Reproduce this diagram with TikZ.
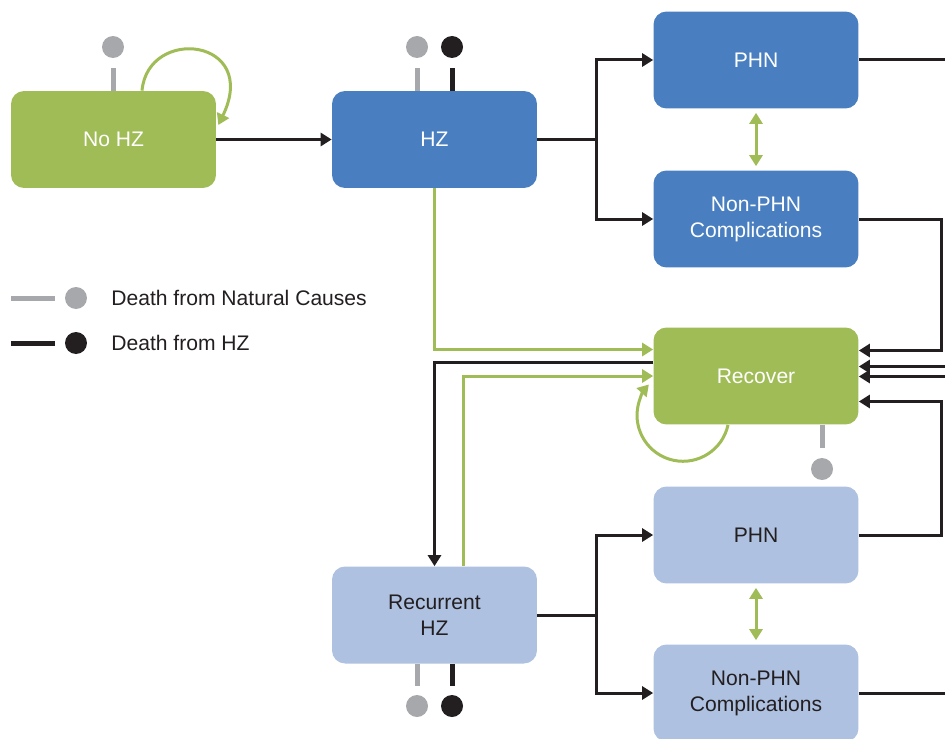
\documentclass[tikz,border=0pt]{standalone}
\usepackage{fontspec}
\setmainfont{Liberation Sans}
\usepackage{tikz}
\usetikzlibrary{arrows.meta}
\definecolor{hzgreen}{RGB}{160,188,86}
\definecolor{hzblue}{RGB}{73,127,192}
\definecolor{hzlight}{RGB}{174,193,225}
\definecolor{hzgray}{RGB}{167,168,171}
\definecolor{hzdark}{RGB}{35,31,32}
\tikzstyle{box} = [rounded corners=0.26cm, minimum width=4.1cm, minimum height=1.94cm, align=center, font=\fontsize{12}{14.8}\selectfont]
\tikzstyle{well} = [box, fill=hzgreen, text=white]
\tikzstyle{acute} = [box, fill=hzblue, text=white]
\tikzstyle{recur} = [box, fill=hzlight, text=hzdark]
\tikzstyle{arrow} = [draw=hzdark, line width=0.06cm, -{Triangle[length=0.22cm, width=0.26cm]}]
\tikzstyle{garrow} = [draw=hzgreen, line width=0.06cm, -{Triangle[length=0.22cm, width=0.26cm]}]
\tikzstyle{gboth} = [garrow, {Triangle[length=0.22cm, width=0.26cm]}-{Triangle[length=0.22cm, width=0.26cm]}, shorten <=0.08cm, shorten >=0.08cm]
\tikzstyle{natdeath} = [circle, fill=hzgray, minimum size=0.44cm, inner sep=0pt]
\tikzstyle{hzdeath} = [circle, fill=hzdark, minimum size=0.44cm, inner sep=0pt]
\tikzstyle{natstub} = [draw=hzgray, line width=0.1cm]
\tikzstyle{hzstub} = [draw=hzdark, line width=0.1cm]
\tikzstyle{legend} = [text=hzdark, font=\fontsize{12}{14.8}\selectfont, inner sep=0pt]

\begin{document}
\begin{tikzpicture}[x=0.02cm, y=0.02cm]
	\path[use as bounding box, clip] (0,0) rectangle (945,738);

	\node[well](nohz) at (113.5,598.5){No HZ};
	\node[acute](hz) at (434.5,598.5){HZ};
	\node[acute](phnA) at (756,678){PHN};
	\node[acute](nonphnA) at (756,519){Non-PHN\\Complications};
	\node[well](recover) at (756,362){Recover};
	\node[recur](phnB) at (756,203){PHN};
	\node[recur](nonphnB) at (756,45){Non-PHN\\Complications};
	\node[recur](rechz) at (434.5,123){Recurrent\\HZ};

	\node[natdeath](nhznat) at (113,691){};
	\node[natdeath](hznat) at (417,691){};
	\node[hzdeath](hzhz) at (452,691){};
	\node[natdeath](recnat) at (822,269){};
	\node[natdeath](rhznat) at (417,32){};
	\node[hzdeath](rhzhz) at (452,32){};
	\draw[natstub](nhznat |- nohz.north) -- ([yshift=-0.2cm]nhznat.south);
	\draw[natstub](hznat |- hz.north) -- ([yshift=-0.2cm]hznat.south);
	\draw[hzstub](hzhz |- hz.north) -- ([yshift=-0.2cm]hzhz.south);
	\draw[natstub](recnat |- recover.south) -- ([yshift=0.2cm]recnat.north);
	\draw[natstub](rhznat |- rechz.south) -- ([yshift=0.18cm]rhznat.north);
	\draw[hzstub](rhzhz |- rechz.south) -- ([yshift=0.18cm]rhzhz.north);

	\draw[arrow](nohz) -- (hz);
	\draw[garrow]([xshift=0.57cm]nohz.north) .. controls +(0.12cm,1.3cm) and +(0.84cm,1.74cm) .. ([xshift=0.04cm, yshift=0.29cm]nohz.east);
	\draw[arrow](hz.east) -- ++(1.18cm,0) |- (phnA.west);
	\draw[arrow](hz.east) -- ++(1.18cm,0) |- (nonphnA.west);
	\draw[gboth](phnA) -- (nonphnA);
	\draw[arrow](phnA.east) -- ++(2.2cm,0) |- ([yshift=0.19cm]recover.east);
	\draw[arrow](nonphnA.east) -- ++(1.66cm,0) |- ([yshift=0.51cm]recover.east);
	\draw[arrow](phnB.east) -- ++(1.66cm,0) |- ([yshift=-0.51cm]recover.east);
	\draw[arrow](nonphnB.east) -- ++(2.0cm,0) |- ([yshift=-0.01cm]recover.east);
	\draw[garrow](hz.south) |- ([yshift=0.53cm]recover.west);
	\draw[arrow]([yshift=0.27cm]recover.west) -| (rechz.north);
	\draw[garrow]([xshift=0.57cm]rechz.north) |- (recover.west);
	\draw[garrow]([xshift=-0.56cm]recover.south) arc[start angle=-12, end angle=-222, radius=0.92cm];
	\draw[arrow](rechz.east) -- ++(1.18cm,0) |- (phnB.west);
	\draw[arrow](rechz.east) -- ++(1.18cm,0) |- (nonphnB.west);
	\draw[gboth](phnB) -- (nonphnB);

	\coordinate(natstart) at (11,440);
	\node[natdeath](legnat) at (76,440){};
	\node[legend, anchor=west](natlabel) at (111,440){Death from Natural Causes};
	\draw[natstub](natstart) -- ([xshift=-0.2cm]legnat.west);
	\coordinate(hzstart) at (11,395);
	\node[hzdeath](leghz) at (76,395){};
	\node[legend, anchor=west](hzlabel) at (111,395){Death from HZ};
	\draw[hzstub](hzstart) -- ([xshift=-0.2cm]leghz.west);
\end{tikzpicture}
\end{document}
